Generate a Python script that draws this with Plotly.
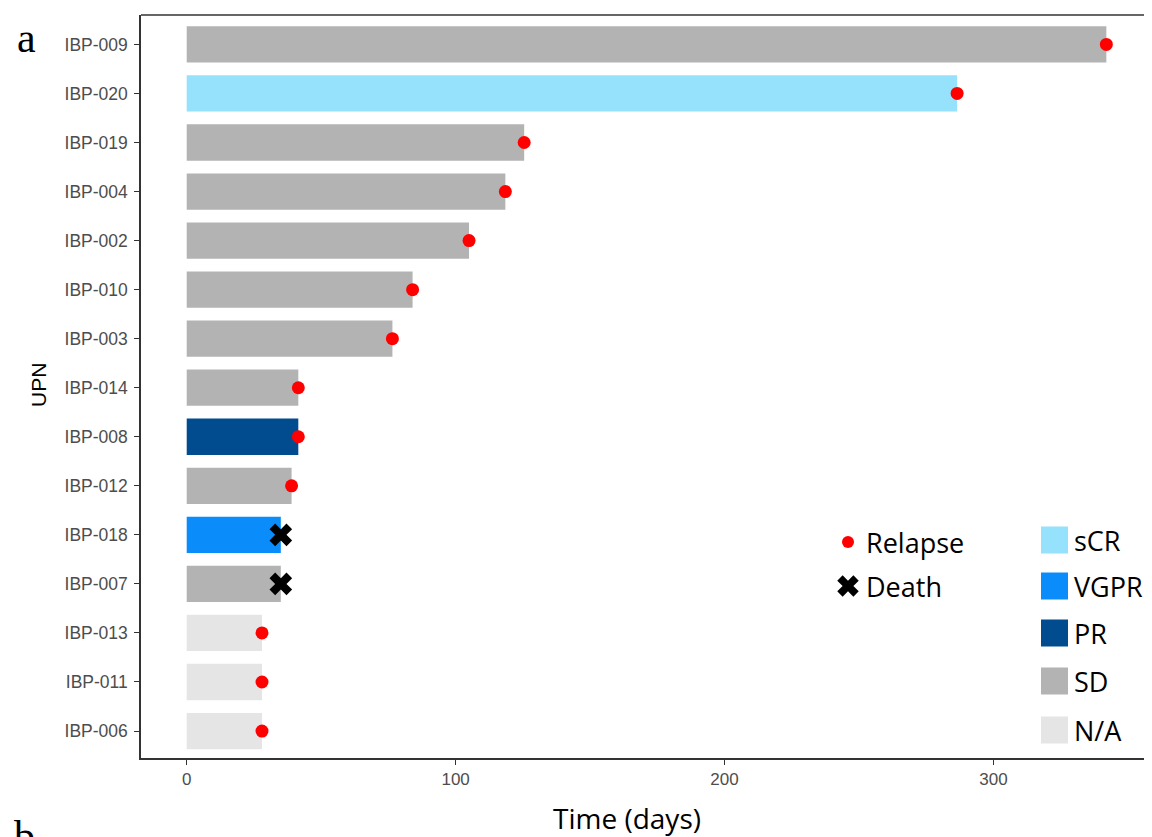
import plotly.graph_objects as go

# ---------------- data ----------------
patients = ["IBP-009", "IBP-020", "IBP-019", "IBP-004", "IBP-002", "IBP-010", "IBP-003",
            "IBP-014", "IBP-008", "IBP-012", "IBP-018", "IBP-007", "IBP-013", "IBP-011", "IBP-006"]
days = [342, 286.5, 125.5, 118.5, 105, 84, 76.5, 41.5, 41.5, 39, 35, 35, 28, 28, 28]
response = ["SD", "sCR", "SD", "SD", "SD", "SD", "SD", "SD", "PR", "SD", "VGPR", "SD", "N/A", "N/A", "N/A"]
event = ["Relapse"] * 10 + ["Death", "Death"] + ["Relapse"] * 3

resp_levels = ["sCR", "VGPR", "PR", "SD", "N/A"]
resp_colors = {"sCR": "#96E1FB", "VGPR": "#0A8DFA", "PR": "#004C8F", "SD": "#B3B3B3", "N/A": "#E5E5E5"}
event_levels = ["Relapse", "Death"]
x_ticks = [0, 100, 200, 300]

# ---------------- layout geometry (screen pixels) ----------------
OFF = 8  # page body margin
W, H = 1152 - 2 * OFF, 837 - OFF
L, R, T, B = 141, 1144, 15, 758  # plot area in screen pixels


def px(xs):
    return (xs - L) / (R - L)


def py(ys):
    return 1 - (ys - T) / (B - T)


fig = go.Figure()

fig.add_trace(go.Bar(
    x=days, y=patients, orientation="h",
    marker=dict(color=[resp_colors[r] for r in response], line=dict(width=0)),
    width=0.74, showlegend=False, hoverinfo="x+y",
))

rel_x = [d for d, e in zip(days, event) if e == "Relapse"]
rel_y = [p for p, e in zip(patients, event) if e == "Relapse"]
dth_x = [d for d, e in zip(days, event) if e == "Death"]
dth_y = [p for p, e in zip(patients, event) if e == "Death"]

fig.add_trace(go.Scatter(x=rel_x, y=rel_y, mode="markers",
                         marker=dict(color="#FF0000", size=13, symbol="circle", line=dict(width=0)),
                         showlegend=False))
fig.add_trace(go.Scatter(x=dth_x, y=dth_y, mode="markers",
                         marker=dict(color="#000000", size=20, symbol="x", line=dict(width=0)),
                         showlegend=False))

# ---- manual legend ----
legend_font = dict(family="Open Sans, Lato, sans-serif", size=27, color="#000000")
ev_rows = {"Relapse": 542, "Death": 586}
fig.add_trace(go.Scatter(x=[px(848)], y=[py(ev_rows["Relapse"])], xaxis="x2", yaxis="y2", mode="markers",
                         marker=dict(color="#FF0000", size=12, symbol="circle", line=dict(width=0)),
                         showlegend=False, hoverinfo="skip"))
fig.add_trace(go.Scatter(x=[px(848)], y=[py(ev_rows["Death"])], xaxis="x2", yaxis="y2", mode="markers",
                         marker=dict(color="#000000", size=19, symbol="x", line=dict(width=0)),
                         showlegend=False, hoverinfo="skip"))
for name in event_levels:
    fig.add_annotation(x=px(864), y=py(ev_rows[name]), xref="paper", yref="paper",
                       text=name, showarrow=False, xanchor="left", yanchor="middle", font=legend_font)

resp_rows = [540, 586, 633, 681, 730]
for name, yc in zip(resp_levels, resp_rows):
    fig.add_shape(type="rect", xref="paper", yref="paper",
                  x0=px(1041), x1=px(1068), y0=py(yc + 13.5), y1=py(yc - 13.5),
                  fillcolor=resp_colors[name], line=dict(width=0))
    fig.add_annotation(x=px(1072), y=py(yc), xref="paper", yref="paper",
                       text=name, showarrow=False, xanchor="left", yanchor="middle", font=legend_font)

# top border of the panel (right border lies outside the visible page)
fig.add_shape(type="line", xref="paper", yref="paper", x0=0, x1=1, y0=1, y1=1,
              line=dict(color="#333333", width=1.5))

# axis titles and panel labels
serif = dict(family="Liberation Serif, Times New Roman, serif", size=42, color="#000")
fig.add_annotation(x=px(26), y=py(38), xref="paper", yref="paper", text="a", showarrow=False,
                   xanchor="center", yanchor="middle", font=serif)
fig.add_annotation(x=px(24), y=py(836), xref="paper", yref="paper", text="b", showarrow=False,
                   xanchor="center", yanchor="middle", font=serif)
fig.add_annotation(x=px(627), y=py(818), xref="paper", yref="paper", text="Time (days)", showarrow=False,
                   xanchor="center", yanchor="middle",
                   font=dict(family="Open Sans, Lato, sans-serif", size=28, color="#000000"))
fig.add_annotation(x=px(38), y=py(385), xref="paper", yref="paper", text="UPN", showarrow=False,
                   textangle=-90, xanchor="center", yanchor="middle",
                   font=dict(family="Liberation Sans, Arial, sans-serif", size=21, color="#000000"))

px_per_day = 2.689
fig.update_layout(
    width=W, height=H,
    margin=dict(l=L - OFF, r=W - (R - OFF), t=T - OFF, b=H - (B - OFF)),
    plot_bgcolor="white", paper_bgcolor="white",
    showlegend=False,
    xaxis=dict(range=[-17, -17 + (R - L) / px_per_day], tickvals=x_ticks, ticks="outside", ticklen=5,
               tickcolor="#333333",
               tickfont=dict(family="Liberation Sans, Arial, sans-serif", size=17, color="#4D4D4D"),
               showline=True, linecolor="#333333", linewidth=1.5, mirror=False, showgrid=False, zeroline=False),
    yaxis=dict(categoryorder="array", categoryarray=patients[::-1], range=[-0.55, 14.6],
               ticks="outside", ticklen=5, tickcolor="#333333", ticklabelstandoff=3,
               tickfont=dict(family="Liberation Sans, Arial, sans-serif", size=17.5, color="#4D4D4D"),
               showline=True, linecolor="#333333", linewidth=1.5, mirror=False, showgrid=False, zeroline=False),
    xaxis2=dict(overlaying="x", range=[0, 1], visible=False, fixedrange=True),
    yaxis2=dict(overlaying="y", range=[0, 1], visible=False, fixedrange=True),
)

fig.write_html("out.html")
